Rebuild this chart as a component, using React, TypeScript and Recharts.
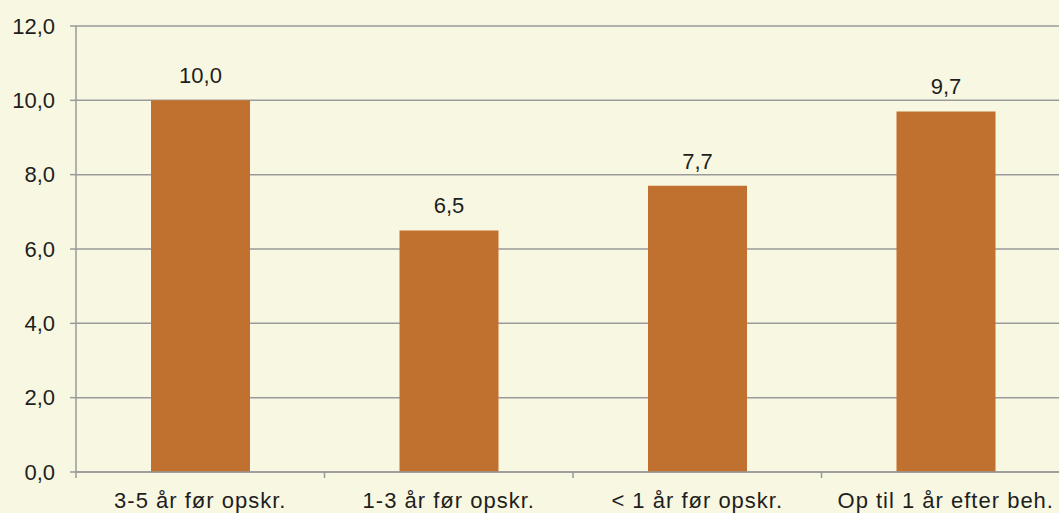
import React from 'react';
import { BarChart, Bar, XAxis, YAxis, CartesianGrid, LabelList } from 'recharts';

const categories = ['3-5 år før opskr.', '1-3 år før opskr.', '< 1 år før opskr.', 'Op til 1 år efter beh.'];
const values = [10.0, 6.5, 7.7, 9.7];
const yTicks = [0, 2, 4, 6, 8, 10, 12];

const data = categories.map((name, i) => ({ name, value: values[i] }));

const fmt = (v: any) => Number(v).toFixed(1).replace('.', ',');

const FONT = '"Liberation Sans", Arial, sans-serif';
const AXIS = '#9a9a9a';
const TEXT = '#1e1e1e';
const FS = 22;

const XTick = (props: any) => {
  const { x, y, payload } = props;
  const off = payload.offset || 0;
  return (
    <g>
      <line x1={x - off} x2={x - off} y1={y - 20} y2={y - 14} stroke={AXIS} strokeWidth={1.5} />
      <text x={x} y={y + 16} textAnchor="middle" fill={TEXT} fontSize={FS} fontFamily={FONT} letterSpacing={1}>
        {payload.value}
      </text>
    </g>
  );
};

export default function App() {
  return (
    <div style={{ position: 'absolute', left: 0, top: 0, width: 1059, height: 513, overflow: 'hidden', background: '#F8F8E2' }}>
      <BarChart
        width={1070}
        height={513}
        data={data}
        margin={{ top: 26, right: 0, bottom: 0, left: 0 }}
        style={{ fontFamily: FONT }}
      >
        <CartesianGrid vertical={false} stroke={AXIS} strokeWidth={1.5} />
        <XAxis
          dataKey="name"
          height={41}
          tickSize={6}
          tickMargin={14}
          tickLine={false}
          axisLine={{ stroke: AXIS, strokeWidth: 1.5 }}
          tick={<XTick />}
          interval={0}
        />
        <YAxis
          width={76}
          domain={[0, 12]}
          ticks={yTicks}
          tickFormatter={fmt}
          tickSize={6}
          tickMargin={15}
          axisLine={{ stroke: AXIS, strokeWidth: 1.5 }}
          tickLine={{ stroke: AXIS, strokeWidth: 1.5 }}
          tick={{ fill: TEXT, fontSize: FS, fontFamily: FONT }}
          interval={0}
        />
        <Bar dataKey="value" fill="#C0702F" barSize={99} isAnimationActive={false}>
          <LabelList dataKey="value" position="top" offset={17} formatter={fmt} fill={TEXT} fontSize={FS} fontFamily={FONT} />
        </Bar>
      </BarChart>
    </div>
  );
}
